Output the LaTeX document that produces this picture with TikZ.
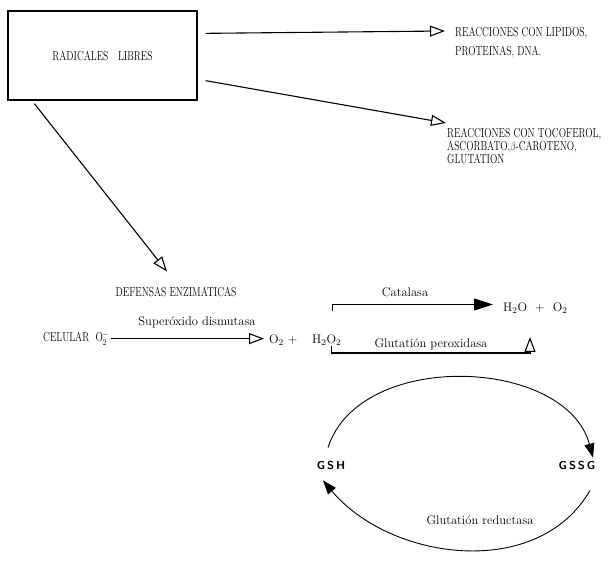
\documentclass[tikz,border=0pt]{standalone}
\usepackage{amsmath}
\usepackage{graphicx}
\usepackage{tikz}
\usetikzlibrary{arrows.meta,positioning}

% narrow capitals, as typed
\newcommand{\cnd}[1]{\scalebox{0.74}[1]{#1}}

\begin{document}
\begin{tikzpicture}[x=1pt, y=1pt,
  mainbox/.style={draw, line width=1.3pt, minimum width=189pt, minimum height=89pt,
    font=\fontsize{13}{14}\selectfont},
  caps/.style={align=left, inner sep=0pt, font=\fontsize{13}{14}\selectfont},
  lbl/.style={inner sep=0pt, font=\fontsize{12.5}{14}\selectfont},
  chem/.style={inner sep=0pt, font=\fontsize{12.5}{14}\selectfont},
  gsx/.style={inner sep=0pt, font=\sffamily\bfseries\fontsize{11.5}{13}\selectfont},
  openarrow/.style={-{Triangle[open, length=15pt, width=11pt, line width=1.1pt]}, line width=1.1pt},
  fullarrow/.style={-{Triangle[length=19pt, width=12pt]}, line width=1pt},
  cycarrow/.style={-{Triangle[length=14pt, width=10pt]}, line width=0.9pt},
]
  \useasboundingbox (0,0) rectangle (614,-561);

  % --- radicales libres and what they do ------------------------------
  \node[mainbox] (rl) at (102.5,-55.5) {\cnd{RADICALES\quad LIBRES}};
  \node[caps, anchor=north west] (lip) at (455,-27) {\cnd{REACCIONES CON LIPIDOS,}\\[5pt] \cnd{PROTEINAS, DNA.}};
  \node[caps, anchor=north west] (toc) at (447,-128) {%
    \cnd{REACCIONES CON TOCOFEROL,}\\[-1pt]
    \cnd{ASCORBATO,$\beta$-CAROTENO,}\\[-1pt]
    \cnd{GLUTATION}};
  \node[caps, anchor=base] (def) at (176,-297) {\cnd{DEFENSAS ENZIMATICAS}};

  \draw[openarrow] ([shift={(8pt,-23pt)}]rl.north east) -- ([shift={(-10pt,-4pt)}]lip.north west);
  \draw[openarrow] ([shift={(8pt,20pt)}]rl.south east) -- ([shift={(-1pt,5pt)}]toc.north west);
  \draw[openarrow] ([shift={(27pt,-3pt)}]rl.south west) -- ([shift={(-9pt,16pt)}]def.north);

  % --- dismutasa, catalasa, peroxidasa --------------------------------
  \node[caps, anchor=base west] (cel) at (43,-342) {\cnd{CELULAR\ \ O$_2^-$}};
  \node[lbl] (sod) at (197,-322) {Superóxido dismutasa};
  \node[chem, anchor=base west] (o2a) at (269,-344) {O$_2$ +};
  \node[chem, anchor=base west] (h2o2) at (312,-344) {H$_2$O$_2$};
  \node[chem, anchor=base west] (prod) at (503,-312) {H$_2$O\ \ +\ \ O$_2$};
  \node[lbl] (cat) at (405,-292) {Catalasa};
  \node[lbl] (gpx) at (431,-344) {Glutatión peroxidasa};

  \draw[openarrow, shorten >=5pt] ([xshift=2pt]cel.east) -- (o2a.west |- cel.east);
  \draw[fullarrow, shorten >=10pt] ([shift={(6pt,24pt)}]h2o2.north) |- ([yshift=4pt]prod.west);
  \draw[openarrow] ([xshift=5pt]h2o2.south) |- ([shift={(27pt,-39pt)}]prod.south west)
    -- ([shift={(27pt,-23pt)}]prod.south west);

  % --- ciclo del glutation --------------------------------------------
  \node[gsx] (gsh) at (331,-466) {G\,S\,H};
  \node[gsx] (gssg) at (577,-466) {G\,S\,S\,G};
  \node[lbl] (grd) at (480,-520) {Glutatión reductasa};

  \draw[cycarrow] ([shift={(-3pt,14pt)}]gsh.north) to[out=72, in=105, looseness=1] ([shift={(16pt,4pt)}]gssg.north);
  \draw[cycarrow] ([shift={(13pt,-20pt)}]gssg.south) to[out=240, in=310, looseness=1] ([shift={(-8pt,-10pt)}]gsh.south);
\end{tikzpicture}
\end{document}
